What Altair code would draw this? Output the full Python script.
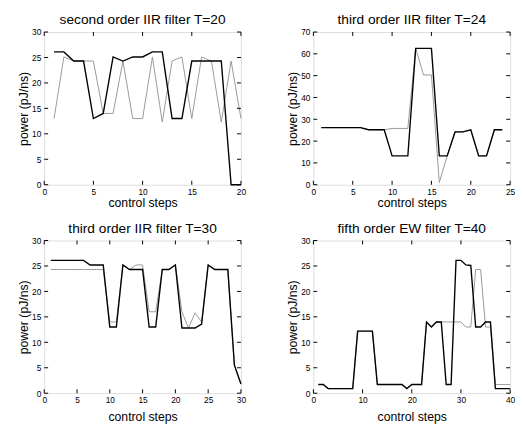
import altair as alt
import pandas as pd

# ---- data ----
titles = ["second order IIR filter T=20", "third order IIR filter T=24",
          "third order IIR filter T=30", "fifth order EW filter T=40"]

p1_black = [26.1, 26.1, 24.3, 24.3, 13.0, 14.0, 25.1, 24.3, 25.1, 25.1,
            26.1, 26.1, 13.0, 13.0, 24.3, 24.3, 24.3, 24.3, 0.0, 0.0]
p1_gray = [13.0, 25.1, 24.3, 24.3, 24.3, 14.0, 14.0, 24.3, 13.0, 13.0,
           25.1, 12.3, 24.3, 25.1, 13.0, 25.1, 24.3, 12.3, 24.3, 13.0]

p2_black = [26.2, 26.2, 26.2, 26.2, 26.2, 26.2, 25.2, 25.2, 25.2, 13.2,
            13.2, 13.2, 62.5, 62.5, 62.5, 13.2, 13.2, 24.2, 24.2, 25.2,
            13.2, 13.2, 25.2, 25.2]
p2_gray = [26.2, 26.2, 26.2, 26.2, 26.2, 26.2, 25.2, 25.2, 25.2, 25.8,
           25.8, 25.8, 62.5, 50.3, 50.3, 1.0, 13.2, 24.2, 24.2, 25.2,
           13.2, 13.2, 25.2, 25.2]

p3_black = [26.1, 26.1, 26.1, 26.1, 26.1, 26.1, 25.2, 25.2, 25.2, 13.0,
            13.0, 25.2, 24.3, 24.3, 24.3, 13.0, 13.0, 24.3, 24.3, 25.2,
            12.8, 12.8, 12.8, 13.6, 25.2, 24.3, 24.3, 24.3, 5.5, 1.8]
p3_gray = [24.3, 24.3, 24.3, 24.3, 24.3, 24.3, 24.3, 24.3, 24.3, 14.0,
           14.0, 25.2, 24.3, 25.2, 25.2, 16.0, 16.0, 24.3, 24.3, 25.2,
           16.0, 12.8, 15.8, 14.0, 25.2, 24.3, 24.3, 24.3, 5.5, 1.8]

p4_black = [1.7, 1.7, 0.9, 0.9, 0.9, 0.9, 0.9, 0.9, 12.2, 12.2,
            12.2, 12.2, 1.7, 1.7, 1.7, 1.7, 1.7, 1.7, 0.9, 1.7,
            1.7, 1.7, 14.0, 13.0, 14.0, 14.0, 1.7, 1.7, 26.1, 26.1,
            25.2, 25.1, 13.0, 13.0, 14.0, 14.0, 0.9, 0.9, 0.9, 0.9]
p4_gray = [1.7, 1.7, 0.9, 0.9, 0.9, 0.9, 0.9, 0.9, 12.2, 12.2,
           12.2, 12.2, 1.7, 1.7, 1.7, 1.7, 1.7, 1.7, 0.9, 1.7,
           1.7, 1.7, 14.0, 13.0, 14.0, 14.0, 14.0, 14.0, 14.0, 14.0,
           13.0, 13.0, 24.3, 24.3, 13.0, 13.0, 1.7, 1.7, 1.7, 1.7]

x_ticks = [[0, 5, 10, 15, 20], [0, 5, 10, 15, 20, 25],
           [0, 5, 10, 15, 20, 25, 30], [0, 10, 20, 30, 40]]
y_ticks = [[0, 5, 10, 15, 20, 25, 30], [0, 10, 20, 30, 40, 50, 60, 70],
           [0, 5, 10, 15, 20, 25, 30], [0, 5, 10, 15, 20, 25, 30]]

W, H = 201, 156
FONT = "Liberation Sans"
TL = 4  # inward tick length


def panel(title, black, gray, xt, yt, xtitle_pad):
    n = len(black)
    df = pd.DataFrame({"step": list(range(1, n + 1)), "black": black, "gray": gray})
    xs = alt.Scale(domain=[xt[0], xt[-1]], nice=False)
    ys = alt.Scale(domain=[yt[0], yt[-1]], nice=False)
    common = dict(tickSize=0, domain=False, grid=False, labelFontSize=8.5,
                  labelFlush=False, labelOverlap=False, titleFontSize=12.5,
                  titleFontWeight="normal", labelFont=FONT, titleFont=FONT,
                  labelColor="black", titleColor="black")
    xax = alt.Axis(values=xt, labelPadding=3, title="control steps",
                   titlePadding=xtitle_pad, **common)
    yax = alt.Axis(values=yt, labelPadding=3.5, title="power (pJ/ns)",
                   titlePadding=1.5, **common)
    X = lambda f: alt.X(f, scale=xs, axis=xax, title="control steps")
    Y = lambda f: alt.Y(f, scale=ys, axis=yax, title="power (pJ/ns)")
    base = alt.Chart(df)
    g = base.mark_line(color="#999999", strokeWidth=1).encode(x=X("step:Q"), y=Y("gray:Q"))
    b = base.mark_line(color="black", strokeWidth=1.4).encode(x=X("step:Q"), y=Y("black:Q"))
    tx = alt.Chart(pd.DataFrame({"t": xt}))
    ty = alt.Chart(pd.DataFrame({"t": yt}))
    rs = dict(color="black", strokeWidth=1)
    t_bot = tx.mark_rule(**rs).encode(x=X("t:Q"), y=alt.value(H), y2=alt.value(H - TL))
    t_top = tx.mark_rule(**rs).encode(x=X("t:Q"), y=alt.value(0), y2=alt.value(TL))
    t_l = ty.mark_rule(**rs).encode(y=Y("t:Q"), x=alt.value(0), x2=alt.value(TL))
    t_r = ty.mark_rule(**rs).encode(y=Y("t:Q"), x=alt.value(W), x2=alt.value(W - TL))
    return alt.layer(g, b, t_bot, t_top, t_l, t_r).properties(
        width=W, height=H,
        title=alt.TitleParams(title, fontSize=14, fontWeight="normal", font=FONT,
                              color="black", offset=1))


charts = [panel(titles[0], p1_black, p1_gray, x_ticks[0], y_ticks[0], 1),
          panel(titles[1], p2_black, p2_gray, x_ticks[1], y_ticks[1], 1),
          panel(titles[2], p3_black, p3_gray, x_ticks[2], y_ticks[2], 6.5),
          panel(titles[3], p4_black, p4_gray, x_ticks[3], y_ticks[3], 6.5)]

chart = alt.vconcat(
    alt.hconcat(charts[0], charts[1], spacing=40),
    alt.hconcat(charts[2], charts[3], spacing=40),
    spacing=11,
).properties(
    padding={"left": 9, "top": 0, "right": 0, "bottom": 0}
).configure_view(stroke="black", strokeWidth=1).configure(background="white")

chart.save("out.html", embed_options={"renderer": "svg", "actions": False})
